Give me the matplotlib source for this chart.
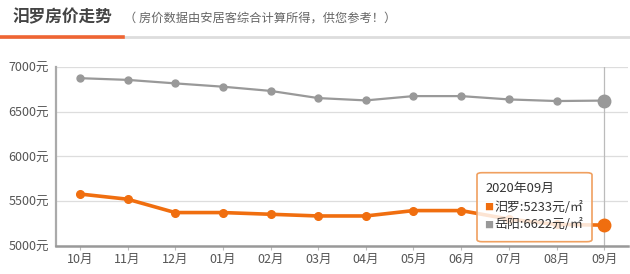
import matplotlib
matplotlib.use('Agg')
import matplotlib.pyplot as plt
from matplotlib.patches import FancyBboxPatch

plt.rcParams['font.family'] = ['Noto Sans CJK SC', 'DejaVu Sans']

# 月份与房价数据（元/㎡）
months = ['10月', '11月', '12月', '01月', '02月', '03月', '04月', '05月', '06月', '07月', '08月', '09月']
miluo = [5580, 5522, 5373, 5373, 5354, 5335, 5335, 5395, 5395, 5300, 5240, 5233]
yueyang = [6872, 6853, 6814, 6777, 6730, 6650, 6624, 6672, 6672, 6635, 6617, 6622]
yticks = [5000, 5500, 6000, 6500, 7000]

orange = '#f06e0f'
gray = '#999999'

fig = plt.figure(figsize=(6.3, 2.74), dpi=100)

# 标题区域
fig.text(13 / 630, 1 - 17 / 274, '汨罗房价走势', fontsize=12, fontweight='bold',
         color='#444444', va='center', ha='left')
fig.text(124 / 630, 1 - 18 / 274, '（ 房价数据由安居客综合计算所得，供您参考！）', fontsize=8.8,
         color='#666666', va='center', ha='left')
fig.add_artist(plt.Line2D([0, 1], [1 - 36.5 / 274] * 2, color='#dddddd', lw=2,
                          transform=fig.transFigure))
fig.add_artist(plt.Line2D([0, 123 / 630], [1 - 36.5 / 274] * 2, color='#ef6533', lw=2.6,
                          transform=fig.transFigure))

ax = fig.add_axes([56 / 630, 1 - 246 / 274, (628 - 56) / 630, (246 - 66.7) / 274])
x = list(range(len(months)))

ax.set_xlim(-0.5, len(months) - 0.5)
ax.set_ylim(5000, 7000)
ax.set_yticks(yticks)
ax.set_yticklabels([f'{v}元' for v in yticks])
ax.set_xticks(x)
ax.set_xticklabels(months)
ax.grid(axis='y', color='#dddddd', lw=0.9)
ax.set_axisbelow(True)

for s in ['top', 'right']:
    ax.spines[s].set_visible(False)
ax.spines['left'].set_color('#aaaaaa')
ax.spines['left'].set_linewidth(1.6)
ax.spines['bottom'].set_color('#999999')
ax.spines['bottom'].set_linewidth(1.8)
ax.tick_params(axis='y', length=0, labelsize=9, labelcolor='#555555', pad=5)
ax.tick_params(axis='x', length=3, color='#bbbbbb', labelsize=9, labelcolor='#555555', pad=2)

# 十字准线
ax.axvline(x[-1], color='#bbbbbb', lw=0.9, zorder=1)

ax.plot(x, yueyang, color=gray, lw=1.6, marker='o', ms=5, zorder=3)
ax.plot(x, miluo, color=orange, lw=2.6, marker='o', ms=5.5, zorder=3)
ax.plot(x[-1], yueyang[-1], 'o', color=gray, ms=9, zorder=4)
ax.plot(x[-1], miluo[-1], 'o', color=orange, ms=9, zorder=4)

# 提示框
tip = FancyBboxPatch((477 / 630, 1 - 241.7 / 274), (592 - 477) / 630, (241.7 - 172.7) / 274,
                     boxstyle='round,pad=0,rounding_size=0.008', transform=fig.transFigure,
                     facecolor=(1, 1, 1, 0.82), edgecolor='#f0a060', lw=1.2, zorder=10)
fig.add_artist(tip)
fig.text(485 / 630, 1 - 188 / 274, '2020年09月', fontsize=9.3, color='#333333', va='center', zorder=11)
fig.text(484 / 630, 1 - 207.5 / 274, '■', fontsize=6.5, color=orange, va='center', zorder=11)
fig.text(494 / 630, 1 - 207.5 / 274, f'汨罗:{miluo[-1]}元/㎡', fontsize=9.3, color='#333333',
         va='center', zorder=11)
fig.text(484 / 630, 1 - 225 / 274, '■', fontsize=6.5, color=gray, va='center', zorder=11)
fig.text(494 / 630, 1 - 225 / 274, f'岳阳:{yueyang[-1]}元/㎡', fontsize=9.3, color='#333333',
         va='center', zorder=11)

fig.savefig('out.png', dpi=100)
